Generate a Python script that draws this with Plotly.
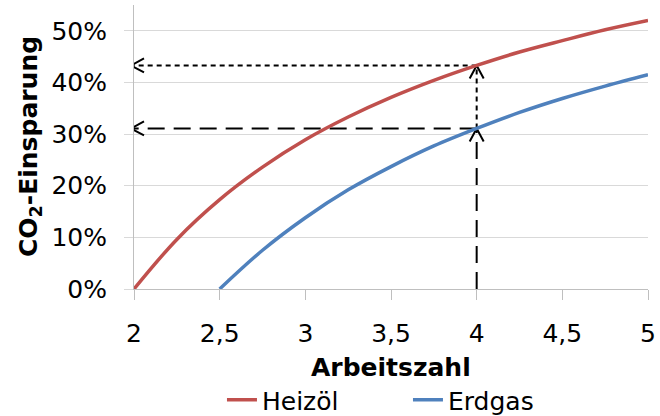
import plotly.graph_objects as go

# Data
arbeitszahl = [2.0, 2.25, 2.5, 2.75, 3.0, 3.25, 3.5, 3.75, 4.0, 4.25, 4.5, 4.75, 5.0]
heizoel = [0.0, 0.096, 0.173, 0.236, 0.289, 0.333, 0.371, 0.404, 0.433, 0.459, 0.481, 0.502, 0.520]
arbeitszahl_gas = [2.5, 2.75, 3.0, 3.25, 3.5, 3.75, 4.0, 4.25, 4.5, 4.75, 5.0]
erdgas = [0.0, 0.075, 0.138, 0.192, 0.237, 0.277, 0.311, 0.342, 0.369, 0.393, 0.415]

x_ticks = [2, 2.5, 3, 3.5, 4, 4.5, 5]
y_ticks = [0, 0.1, 0.2, 0.3, 0.4, 0.5]

x_read = 4.0
y_read_heizoel = 0.433
y_read_erdgas = 0.311
x_min = 2.0
x_max = 5.0
y_max = 0.55

RED = "#C0504D"
BLUE = "#4F81BD"
FONT = "DejaVu Sans, sans-serif"
FS = 25

# plot-area geometry (px) used to size the arrow heads
W, H = 660, 416
ML, MR, MT, MB = 134, 12, 5, 127
px_x = (W - ML - MR) / (x_max - x_min)      # px per x unit
px_y = (H - MT - MB) / y_max                 # px per y unit
head_len = 13
head_half = 7

fig = go.Figure()

def guide(xs, ys, dash):
    fig.add_trace(go.Scatter(x=xs, y=ys, mode="lines",
                             line=dict(color="black", width=2, dash=dash),
                             showlegend=False, hoverinfo="skip", cliponaxis=False))

tip_x = x_min - 3 / px_x
# reading guides
guide([x_read, x_read], [0, y_read_erdgas], "17px,9px")
guide([x_read, x_read], [y_read_erdgas, y_read_heizoel], "5px,4px")
guide([x_read, tip_x], [y_read_erdgas, y_read_erdgas], "17px,9px")
guide([x_read, tip_x], [y_read_heizoel, y_read_heizoel], "5px,4px")

# open chevron arrow heads
def chevron_left(x, y):
    dx, dy = head_len / px_x, head_half / px_y
    guide([x + dx, x, x + dx], [y + dy, y, y - dy], "solid")

def chevron_up(x, y):
    dx, dy = head_half / px_x, head_len / px_y
    guide([x - dx, x, x + dx], [y - dy, y, y - dy], "solid")

chevron_left(tip_x, y_read_heizoel)
chevron_left(tip_x, y_read_erdgas)
chevron_up(x_read, y_read_heizoel)
chevron_up(x_read, y_read_erdgas)

fig.add_trace(go.Scatter(x=arbeitszahl, y=heizoel, mode="lines", name="Heizöl",
                         line=dict(color=RED, width=3.5, shape="spline")))
fig.add_trace(go.Scatter(x=arbeitszahl_gas, y=erdgas, mode="lines", name="Erdgas",
                         line=dict(color=BLUE, width=3.5, shape="spline")))

plot_h = H - MT - MB
fig.update_layout(
    width=W, height=H,
    margin=dict(l=ML, r=MR, t=MT, b=MB, autoexpand=False),
    plot_bgcolor="white", paper_bgcolor="white",
    separators=",.",
    font=dict(family=FONT, size=FS, color="black"),
    showlegend=True,
    legend=dict(orientation="h", x=0.533, xanchor="center",
                y=-(400 - (H - MB)) / plot_h, yanchor="middle",
                font=dict(size=FS), itemwidth=30, tracegroupgap=0,
                entrywidth=141, entrywidthmode="pixels",
                bgcolor="rgba(0,0,0,0)"),
)

fig.update_xaxes(range=[x_min, x_max], tickvals=x_ticks, tickformat=".1~f", automargin=False,
                 showgrid=False, zeroline=False, showline=True, linecolor="#BFBFBF", linewidth=1,
                 ticks="outside", ticklen=10, tickcolor="#BFBFBF",
                 ticklabelstandoff=12, tickfont=dict(size=FS))
fig.update_yaxes(range=[0, y_max], tickvals=y_ticks, tickformat=".0%", automargin=False,
                 showgrid=True, gridcolor="#D9D9D9", gridwidth=1, zeroline=False,
                 showline=True, linecolor="#BFBFBF", linewidth=1,
                 ticks="outside", ticklen=9, tickcolor="#D9D9D9",
                 ticklabelstandoff=12, tickfont=dict(size=FS))

# axis titles
fig.add_annotation(text="<b>Arbeitszahl</b>", xref="paper", yref="paper", x=0.5, y=0,
                   xanchor="center", yanchor="middle", yshift=-78, showarrow=False,
                   font=dict(size=FS))
fig.add_annotation(text="<b>CO<sub>2</sub>-Einsparung</b>", xref="paper", yref="paper",
                   x=0, y=0.5, xanchor="center", yanchor="middle", xshift=-104,
                   textangle=-90, showarrow=False, font=dict(size=FS))

fig.write_html("out.html", config={"displayModeBar": False},
               post_script="document.body.style.margin='0px';document.body.style.overflow='hidden';")
